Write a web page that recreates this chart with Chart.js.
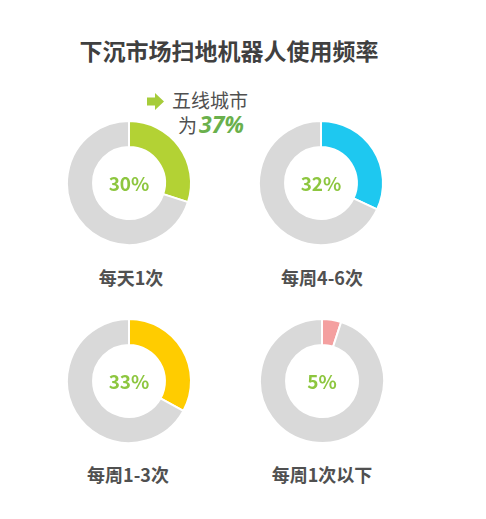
<!DOCTYPE html>
<html>
<head>
<meta charset="utf-8">
<script src="https://cdn.jsdelivr.net/npm/chart.js@4"></script>
<style>
  body { margin: 0; background: #fff; width: 486px; height: 519px; position: relative; overflow: hidden;
         font-family: "Noto Sans CJK SC", "Noto Sans", sans-serif; }
  .title { position: absolute; left: 0; top: 35px; width: 458px; line-height: 30px; text-align: center; font-size: 23px; font-weight: bold; color: #404040; }
  .box { position: absolute; width: 130px; height: 130px; }
  .lbl { position: absolute; width: 160px; line-height: 24px; text-align: center; font-size: 18px; font-weight: bold; color: #505050; }
  .note { position: absolute; left: 147px; top: 87px; font-size: 19px; color: #505050; line-height: 25px; }
  .note b { color: #6ab04c; font-style: italic; font-size: 23px; font-family: "Open Sans", sans-serif; }
</style>
</head>
<body>
<div class="title">下沉市场扫地机器人使用频率</div>
<div class="note">
  <svg width="17" height="17" style="vertical-align:-2px;margin-right:8px"><path d="M0 4.5 H8 V0 L17 8.5 L8 17 V12.5 H0 Z" fill="#a6cc3a"/></svg>五线城市<br>
  <span style="margin-left:31px">为</span><b style="margin-left:2px">37%</b>
</div>
<div id="wrap"></div>
<script>
// chart data
var categories = ['每天1次', '每周4-6次', '每周1-3次', '每周1次以下'];
var shares = [30, 32, 33, 5];
var sliceColors = ['#b3d234', '#1ec8f0', '#ffcc00', '#f4a0a0'];
var restColor = '#d9d9d9';

// where each donut sits (centre x, centre y) and its label row (x, y)
var spots = [[129, 183, 131, 277], [321, 183, 322, 277], [129, 381, 128, 474], [322, 381, 322, 474]];

var centerText = {
    id: 'centerText',
    afterDraw(chart) {
        const ctx = chart.ctx;
        const a = chart.chartArea;
        ctx.save();
        ctx.fillStyle = '#8dc63f';
        ctx.font = 'bold 19px "Noto Sans CJK SC", sans-serif';
        ctx.textAlign = 'center';
        ctx.textBaseline = 'middle';
        ctx.fillText(chart.options.plugins.centerText.text, (a.left + a.right) / 2, (a.top + a.bottom) / 2 + 1);
        ctx.restore();
    }
};

var wrap = document.getElementById('wrap');
for (var i = 0; i < categories.length; i++) {
    var s = spots[i];
    var box = document.createElement('div');
    box.className = 'box';
    box.style.left = (s[0] - 65) + 'px';
    box.style.top = (s[1] - 65) + 'px';
    var cv = document.createElement('canvas');
    box.appendChild(cv);
    wrap.appendChild(box);

    var lbl = document.createElement('div');
    lbl.className = 'lbl';
    lbl.textContent = categories[i];
    lbl.style.left = (s[2] - 80) + 'px';
    lbl.style.top = (s[3] - 12) + 'px';
    wrap.appendChild(lbl);

    new Chart(cv.getContext('2d'), {
        type: 'doughnut',
        data: {
            labels: [categories[i], '其他'],
            datasets: [{
                data: [shares[i], 100 - shares[i]],
                backgroundColor: [sliceColors[i], restColor],
                borderColor: '#ffffff',
                borderWidth: 2
            }]
        },
        options: {
            responsive: true,
            maintainAspectRatio: false,
            animation: false,
            cutout: '58%',
            layout: { padding: 2 },
            plugins: {
                legend: { display: false },
                tooltip: { enabled: false },
                centerText: { text: shares[i] + '%' }
            }
        },
        plugins: [centerText]
    });
}
</script>
</body>
</html>
